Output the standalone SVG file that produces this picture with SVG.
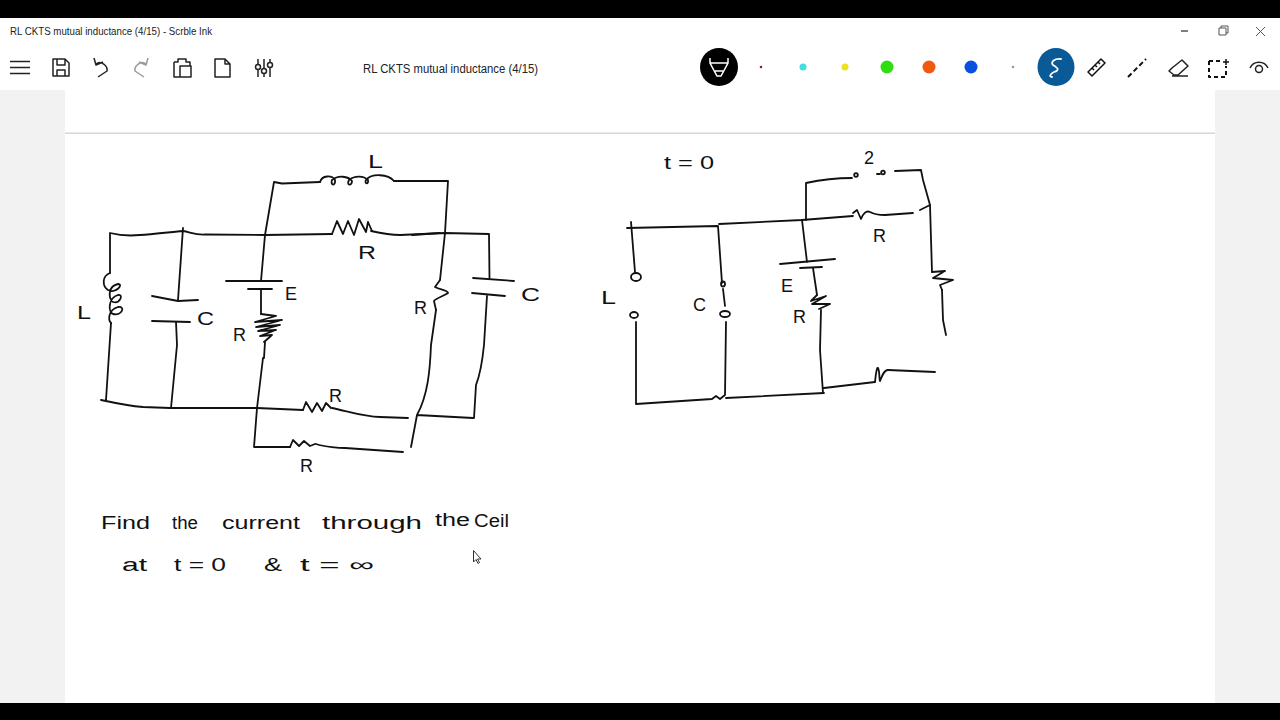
<svg xmlns="http://www.w3.org/2000/svg" width="1280" height="720" viewBox="0 0 1280 720">
<style>
.ui{font-family:"Liberation Sans",Arial,sans-serif;fill:#222}
.ink,.ink path{fill:none;stroke:#111;stroke-width:1.8;stroke-linecap:round;stroke-linejoin:round}
.hw{font-family:"Liberation Sans",Arial,sans-serif;fill:#111;font-size:18px}
.ic{fill:none;stroke:#222;stroke-width:1.5;stroke-linejoin:round}
</style>
<rect width="1280" height="720" fill="#fff"/>
<g id="chrome">
<rect x="0" y="0" width="1280" height="18" fill="#000"/>
<rect x="0" y="703" width="1280" height="17" fill="#000"/>
<rect x="0" y="90" width="65" height="613" fill="#f2f2f2"/>
<rect x="1215" y="90" width="65" height="613" fill="#f2f2f2"/>
<rect x="65" y="132.500" width="1150" height="1.500" fill="#d6d6d6"/>
<text class="ui" x="10" y="35" font-size="10.500" textLength="202" lengthAdjust="spacingAndGlyphs">RL CKTS mutual inductance (4/15) - Scrble Ink</text>
<text class="ui" x="363" y="73" font-size="12" textLength="175" lengthAdjust="spacingAndGlyphs">RL CKTS mutual inductance (4/15)</text>
</g>
<g id="toolbar-left" class="ic">
<path d="M10 61.500H30M10 67.500H30M10 73.500H30"/>
<path d="M53 59H65L69 63V76H53ZM57 59V65H65V59M57 76V70H65V76"/>
<path d="M94 58L96 65L103 62M96 64C101 60 108 66 107 71L98 77"/>
<path stroke="#999" d="M148 58L146 65L139 62M146 64C141 60 134 66 135 71L144 77"/>
<path d="M174 62H178V59H186V62H190V66M174 62V77H180M180 66H191V77H180Z"/>
<path d="M215 59H225L230 64V77H215ZM225 59V64H230"/>
<path d="M258 59V77M264 59V77M270 59V77"/>
<circle cx="258" cy="67" r="2.500" fill="#fff"/><circle cx="264" cy="71" r="2.500" fill="#fff"/><circle cx="270" cy="65" r="2.500" fill="#fff"/>
</g>
<g id="pens">
<ellipse cx="719" cy="67" rx="19" ry="19" fill="#000"/>
<path d="M710 58V63L717 76H721L728 63V58M710 63H728M715 71H723" fill="none" stroke="#fff" stroke-width="1.500"/>
<circle cx="761" cy="67" r="1.300" fill="#a01818"/>
<circle cx="803" cy="67" r="3.500" fill="#40e0e0"/>
<circle cx="845" cy="67" r="3.500" fill="#f0e020"/>
<circle cx="887" cy="67" r="6.500" fill="#30dd10"/>
<circle cx="929" cy="67" r="6.500" fill="#f05a10"/>
<circle cx="971" cy="67" r="6.500" fill="#0a50e0"/>
<circle cx="1013" cy="67" r="1.300" fill="#80b080"/>
<ellipse cx="1056" cy="67" rx="18.500" ry="19" fill="#0a5a98"/>
<path d="M1061 59C1055 58 1050 62 1053 65C1058 68 1060 70 1054 72C1050 74 1049 77 1052 77" fill="none" stroke="#fff" stroke-width="1.800" stroke-linecap="round"/>
</g>
<g id="toolbar-right" class="ic">
<path d="M1088 72L1101 59L1105 63L1092 76ZM1092 68L1094 70M1095 65L1097 67M1098 62L1100 64" stroke="#111"/>
<path d="M1128 77L1146 59" stroke="#111" stroke-width="2" stroke-dasharray="5 3"/>
<path d="M1172 68L1182 60L1188 66L1178 75H1174L1169 71ZM1172 76H1188"/>
<path d="M1209 61H1222M1209 61V77H1226V66" stroke="#111" stroke-width="2" stroke-dasharray="4 3"/>
<path d="M1223 62H1229M1226 59V65" stroke="#111"/>
<path d="M1250 68A10 10 0 0 1 1268 68"/><circle cx="1259" cy="69" r="3.500"/>
<path d="M1181 31H1188" stroke="#555"/>
<path d="M1219 28H1226V35H1219ZM1221 28V26H1228V33H1226" stroke="#555" stroke-width="1"/>
<path d="M1256 27L1265 36M1265 27L1256 36" stroke="#555" stroke-width="1"/>
<path d="M473.500 550.500V562L476 559.500L478 563.500L479.500 562.500L477.500 559H481Z" fill="#fff" stroke="#333" stroke-width="1"/>
</g>
<g id="connectors" class="ink">
<path d="M110 273V233C118 235 130 236 140 235C155 234 170 232 183 231C190 232 195 235 205 234.500L265 235L332 234"/>
<path d="M265 235L274 182L282 183.500L320 182"/>
<path d="M394 181L448 181L445 233L440 280"/>
<path d="M371 231C380 233 390 235 400 235L445 233L489 234L489.500 278"/>
<path d="M412 235L440 233M183 228L178 300"/>
<path d="M111 323L106 400M101 400C115 403 130 406 143 407L170 408L257 408L303 410"/>
<path d="M176 322L177 345L171 408"/>
<path d="M265 235L261 281M261 289V314"/>
<path d="M265 342L264 358M263 358L257 408L254 447L290 447"/>
<path d="M332 408C350 412 365 417 380 417L408 418M316 444C325 447 340 448 345 448L403 452"/>
<path d="M436 310L431 345C430 370 428 395 417 415L411 447M417 415L473 418"/>
<path d="M487 296L484 345C482 365 478 380 476 385L474 418"/>
<path d="M627 228L718 226L722 283M723 289L725 306"/>
<path d="M631 222L635 272M636 322V404L712 399L716 396L720 399L725 395L726 322"/>
<path d="M726 398L824 393"/>
<path d="M719 224L802 220L853 216M885 215L913 213M920 210L930 205"/>
<path d="M806 220V183C820 180 840 178 852 178M895 171L921 170L923 180L930 205L932 272"/>
<path d="M802 220L807 262M813 268L817 295M821 310L820 350L823 393M824 388L875 382M888 370L935 372"/>
<path d="M942 290L943 320L946 335"/>
</g>
<g id="left-L-coil" class="ink"><path d="M110 273C102 276 102 286 108 290C116 294 124 284 118 284C108 286 108 298 113 302C120 304 124 294 118 295C108 298 108 312 113 314C122 316 126 306 118 307C108 310 108 320 111 323"/></g>
<g id="left-C1" class="ink"><path d="M152 296L178 301L198 300M152 321L190 322"/></g>
<g id="battery-E" class="ink"><path d="M226 281L282 281M248 289H272"/></g>
<g id="left-R-battery" class="ink"><path d="M261 314L276 316L255 322L282 320L256 327L280 325L258 331L276 330L260 336L272 335L264 342"/></g>
<g id="top-L" class="ink"><path d="M320 182C322 175 332 175 335 180C336 186 330 186 332 180C338 175 348 176 352 181C352 186 346 186 349 180C355 175 364 176 368 180C369 185 364 184 366 180C372 173 388 174 394 181"/></g>
<g id="top-R" class="ink"><path d="M332 234L337 221L343 234L348 221L354 235L359 219L366 232L368 222L372 231"/></g>
<g id="right-R" class="ink"><path d="M440 280L435 287C440 290 448 290 448 293C444 296 436 298 434 301L436 310"/></g>
<g id="right-C" class="ink"><path d="M473 278L514 281M472 293L505 296"/></g>
<g id="bottom-R1" class="ink"><path d="M303 410L306 402L312 412L317 403L322 411L326 403L331 408"/></g>
<g id="bottom-R2" class="ink"><path d="M290 447L293 440L299 446L304 441L310 446L315 444"/></g>
<g id="sw-L" class="ink"><ellipse cx="636" cy="277" rx="5" ry="4"/><ellipse cx="634" cy="315" rx="4" ry="3"/></g>
<g id="sw-C" class="ink"><ellipse cx="723" cy="284" rx="2" ry="2.500"/><ellipse cx="725" cy="314" rx="5" ry="3"/></g>
<g id="sw-top" class="ink"><circle cx="856" cy="175" r="1.800"/><path d="M877 174H880"/><circle cx="883" cy="172.500" r="1.800"/></g>
<g id="bat-2" class="ink"><path d="M780 264L835 259M800 268L822 267"/></g>
<g id="R-2" class="ink"><path d="M817 295L811 301L826 296L812 304L830 304L819 309"/></g>
<g id="R-top-2" class="ink"><path d="M853 213L857 210L861 219C863 214 866 210 870 212C875 215 880 215 885 215"/></g>
<g id="R-right-2" class="ink"><path d="M932 272L945 271L933 278L953 280L940 285L942 290"/></g>
<g id="R-bot-2" class="ink"><path d="M875 382C876 372 877 367 878 368C880 372 879 380 880 381C882 376 884 370 888 370"/></g>
<g id="labels">
<text class="hw" x="368" y="168" font-size="16" textLength="15" lengthAdjust="spacingAndGlyphs">L</text>
<text class="hw" x="358" y="259" font-size="16" textLength="18" lengthAdjust="spacingAndGlyphs">R</text>
<text class="hw" x="77" y="319" font-size="18" textLength="14" lengthAdjust="spacingAndGlyphs">L</text>
<text class="hw" x="197" y="325" font-size="16" textLength="17" lengthAdjust="spacingAndGlyphs">C</text>
<text class="hw" x="285" y="300" font-size="18">E</text>
<text class="hw" x="233" y="341" font-size="18">R</text>
<text class="hw" x="414" y="314" font-size="18">R</text>
<text class="hw" x="521" y="301" font-size="16" textLength="19" lengthAdjust="spacingAndGlyphs">C</text>
<text class="hw" x="329" y="402" font-size="18">R</text>
<text class="hw" x="300" y="472" font-size="18">R</text>
<text class="hw" x="664" y="169" font-size="18" textLength="50" lengthAdjust="spacingAndGlyphs">t = 0</text>
<text class="hw" x="601" y="304" font-size="18" textLength="15" lengthAdjust="spacingAndGlyphs">L</text>
<text class="hw" x="693" y="311" font-size="16">C</text>
<text class="hw" x="864" y="164" font-size="16">2</text>
<text class="hw" x="873" y="242" font-size="14">R</text>
<text class="hw" x="781" y="292" font-size="16">E</text>
<text class="hw" x="793" y="323" font-size="18">R</text>
<text class="hw" x="101" y="529" textLength="49" lengthAdjust="spacingAndGlyphs">Find</text>
<text class="hw" x="172" y="529" textLength="26" lengthAdjust="spacingAndGlyphs">the</text>
<text class="hw" x="222" y="529" textLength="78" lengthAdjust="spacingAndGlyphs">current</text>
<text class="hw" x="322" y="529" textLength="100" lengthAdjust="spacingAndGlyphs">through</text>
<text class="hw" x="435" y="526" textLength="35" lengthAdjust="spacingAndGlyphs">the</text>
<text class="hw" x="474" y="527" textLength="35" lengthAdjust="spacingAndGlyphs">Ceil</text>
<text class="hw" x="122" y="571" textLength="25" lengthAdjust="spacingAndGlyphs">at</text>
<text class="hw" x="174" y="571" textLength="52" lengthAdjust="spacingAndGlyphs">t = 0</text>
<text class="hw" x="264" y="571" textLength="18" lengthAdjust="spacingAndGlyphs">&amp;</text>
<text class="hw" x="300" y="571" textLength="74" lengthAdjust="spacingAndGlyphs">t = ∞</text>
</g>
</svg>
